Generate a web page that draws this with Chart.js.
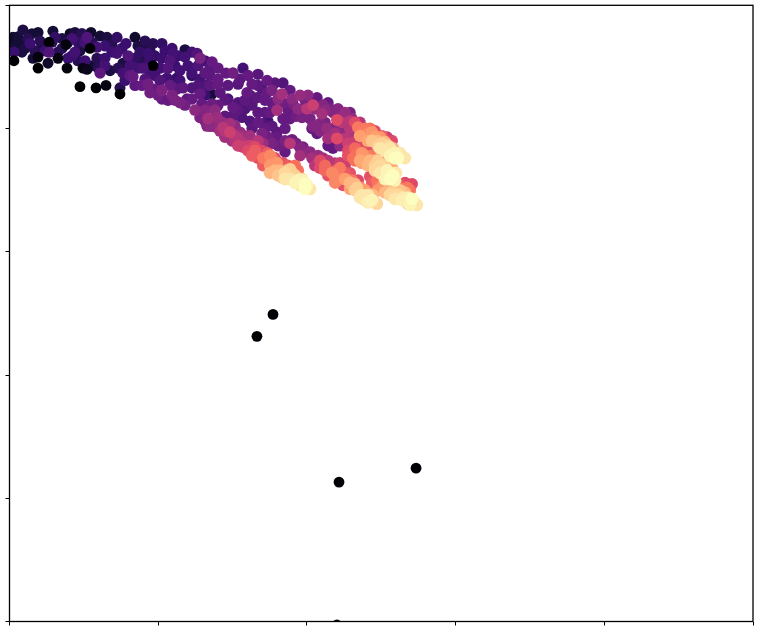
<!DOCTYPE html>
<html>
<head>
<meta charset="utf-8">
<title>Scatter</title>
<style>
  html, body { margin: 0; padding: 0; background: #fff; }
  #wrap { width: 759px; height: 628px; }
</style>
<script src="https://cdn.jsdelivr.net/npm/chart.js@4/dist/chart.umd.min.js"></script>
</head>
<body>
<div id="wrap"><canvas id="chart" width="759" height="628"></canvas></div>
<script>
// values (axes have no labels, so 0-500 is an arbitrary unit)
const tickValues = [0, 100, 200, 300, 400, 500];

// lone points under the band
const outlierX = [177.2, 166.4, 273.4, 221.6, 220.2];
const outlierY = [249.2, 231.4, 124.4, 113.1, -2.8];
const outlierHeat = [0, 0, 0, 0, 0];

// dark head on the left
const headX = [47.4, 58.2, 74.3, 19.2, 38.7, 19.2, 3, 26.6, 32.6, 38, 96.5, 64.9, 54.1, 49.4, 52.1, 9, 15.1, 29.2, 2.3, 3, 7, 10.4, 13.8, 20.5, 23.9, 26.6, 25.9, 32.6, 40.7, 44, 48.7, 52.1, 54.8, 60.9, 42, 44, 47.4, 50.8, 58.8, 64.2, 67.6, 60.9, 74.3, 0.3,
    5.7, 12.4, 19.2, 3.7, 8.4, 17.1, 15.8, 21.8, 28.6, 30.6, 35.3, 39.3, 46, 50.8, 42, 35.3, 39.3, 46, 55.5, 58.8, 64.2, 68.9, 68.9, 75.6, 79.7, 81, 73, 55.5, 59.5, 64.2];
const headY = [434, 433, 428, 449, 449, 458, 455, 470, 457, 468, 451, 435, 465, 449, 448, 480, 477, 479, 474, 462, 469, 465, 469, 471, 463, 462, 453, 462, 477, 478, 477, 474, 478, 475, 459, 462, 463, 455, 457, 457, 447, 445, 433, 470,
    474.5, 473, 478, 467, 462, 463, 457, 467, 470, 474, 473, 470, 470, 470, 473, 465, 457, 455, 470, 466, 467, 468, 462, 465, 459, 451, 449, 451, 449, 451];
const headHeat = [0, 0, 0, 0, .02, .02, 0, 0, .02, .02, 0, .03, 0, .03, .05, .12, .1, .1, .08, .2, .1, .12, .2, .15, .2, .25, .08, .15, .06, .12, .15, .25, .08, .1, .2, .22, .12, .2, .15, .2, .12, .28, .15, .08,
    .1, .15, .1, .1, .12, .15, .1, .12, .15, .18, .12, .15, .18, .22, .22, .15, .2, .15, .15, .22, .2, .15, .2, .2, .25, .22, .15, .1, .15, .22];

// purple middle of the band
const midX = [65.6, 72.3, 78.3, 84.4, 91.1, 96.5, 102.5, 109.3, 118, 122.7, 126.1, 128.1, 72.3, 76.3, 76.3, 83, 84.4, 93.1, 89.8, 97.8, 102.5, 106.6, 110, 114.6, 122.7, 105.9, 112.6, 122.7, 89.1, 93.1, 97.8, 102.5, 102.5, 109.3, 106.6, 114.6, 112.6, 116.7, 122.7, 128.1, 119.4, 124.7, 129.4, 136.2, 136.2, 133.5, 128.1, 136.8, 139.5, 134.8, 134.8, 136.2, 140.2, 140.2, 140.2, 146.9, 145.6, 150.3, 157, 153.7, 159.7, 163.1, 167.1, 173.2, 173.2, 169.8, 178.5, 183.9, 183.2, 190, 195.4, 200.7, 179.9, 176.5, 183.9, 183.9, 190.6, 130.1, 146.9, 153.7, 150.3, 163.1, 166.4, 156.3, 150.3, 144.9, 148.3, 130.1, 163.1, 170.5, 173.8, 171.8, 179.9, 179.9, 185.3, 190, 183.2, 176.5, 170.5, 188.6, 155, 151.6, 157, 165.1, 196.7, 200];
const midY = [474, 474, 469, 474, 471, 469, 469, 465, 464, 462, 461, 457, 461, 453, 445, 442, 457, 461, 449, 443, 457, 449, 461, 447, 445, 441, 441, 443, 435, 436, 432, 431, 424, 427, 423, 421, 432, 433, 433, 428, 424, 415, 420, 420, 428, 408, 409, 402, 409, 443, 449, 454, 449, 440, 436, 435, 445, 445, 449, 436, 429, 436, 444, 439, 429, 432, 437, 437, 428, 424, 427, 427, 415, 421, 421, 408, 420, 428, 424, 421, 417, 419, 425, 409, 410, 410, 404, 417, 400, 404, 406, 400, 397, 393, 381, 391, 386, 388, 388, 388, 397, 390, 388, 385, 409, 416];
const midHeat = [.12, .18, .2, .08, .15, .15, .18, .2, .12, .22, .25, .35, .22, .12, .22, .3, .18, .2, .24, .22, .2, .26, .22, .22, .22, .22, .18, .18, .3, .33, .3, .36, .3, .36, .3, .35, .28, .28, .25, .3, .28, .4, .3, .32, .1, .45, .36, .38, .43, .28, .27, .3, .3, .3, .3, .28, .3, .33, .22, .27, .3, .3, .27, .3, .3, .25, .27, .25, .45, .4, .42, .4, .45, .3, .33, .3, .35, .15, .25, .25, .3, .27, .28, .25, .28, .28, .45, .25, .28, .25, .22, .3, .28, .3, .3, .32, .32, .35, .43, .5, .42, .48, .5, .6, .35, .5];

const mid2X = [86.4, 91.1, 94.5, 87.7, 97.8, 104.6, 113.3, 118, 107.9, 111.3, 94.5, 89.8, 101.2, 94.5, 86.4, 81, 77.7, 91.1, 101.2, 107.9, 114.6, 120, 126.8, 131.5, 131.5, 128.1, 126.8, 132.8, 134.8, 84.4, 94.5, 99.9, 111.3, 118, 122.7, 131.5, 141.6, 144.9, 140.2, 131.5, 138.2, 142.9, 134.8, 144.9, 151.6, 153.7, 158.4, 158.4, 155, 160.4, 161.7, 167.1, 176.5, 180.6, 171.8, 167.1, 171.8, 175.2, 188.6, 187.3, 194, 192.7, 188.6, 200.7, 205.4, 161.7, 167.1, 185.3, 176.5, 169.8, 161.7, 167.1, 153.7, 160.4, 143.6, 151.6, 180.6, 173.8];
const mid2Y = [467, 466, 463, 462, 459, 463, 459, 458, 455, 451, 455, 455, 449, 445, 449, 443, 439, 440, 439, 435, 439, 451, 451, 455, 445, 440, 435, 435, 435, 435, 429, 427, 423, 419, 424, 427, 429, 423, 419, 415, 415, 405, 402, 398, 402, 415, 423, 416, 440, 443, 427, 435, 431, 424, 423, 413, 413, 413, 431, 415, 416, 410, 408, 421, 416, 406, 405, 400, 402, 396, 394, 390, 386, 382, 401, 394, 386, 393];
const mid2Heat = [.12, .12, .15, .18, .18, .2, .2, .22, .25, .2, .2, .15, .22, .22, .22, .28, .2, .25, .25, .3, .22, .22, .25, .22, .28, .22, .25, .25, .28, .28, .33, .33, .35, .33, .3, .2, .28, .28, .3, .38, .4, .42, .4, .5, .4, .28, .28, .25, .28, .3, .25, .28, .35, .4, .3, .28, .28, .3, .3, .3, .4, .33, .3, .35, .42, .25, .3, .3, .28, .35, .45, .5, .55, .6, .5, .5, .33, .33];

// the five fingers on the right, top one first
const finger1X = [204.1, 198.7, 206.8, 210.8, 214.2, 210.1, 217.5, 220.2, 224.3, 230.3, 234.4, 229, 237.7, 241, 242.4, 245.8, 247.1, 253.9, 250.5, 255.9, 259.2, 261.2, 266,
    212.2, 215.5, 220.9, 225.6, 223.6, 229, 232.3, 235.7, 239.1, 243.8, 249.2, 252.5, 254.5, 257.9, 262.6, 257.2, 245.8, 250.5, 229,
    235.7, 241, 243.8, 247.8, 252.5, 255.9, 249.2, 259.2];
const finger1Y = [419, 423, 425, 419, 421, 412, 413, 407, 410, 408, 401, 400, 397, 396, 400, 393, 390, 393, 388, 384, 380, 376, 376,
    415, 416, 416, 413, 405, 406, 405, 405, 400, 397, 393, 389, 386, 384, 380, 390, 398, 394, 413,
    394, 390, 390, 386, 382, 378, 384, 376];
const finger1Heat = [.55, .35, .3, .38, .3, .45, .38, .6, .42, .42, .72, .5, .7, .75, .7, .8, .85, .55, .9, .95, .98, 1, .95,
    .4, .35, .38, .42, .5, .5, .6, .5, .72, .78, .78, .85, .92, .85, .95, .6, .6, .65, .35,
    .8, .82, .88, .9, .95, .98, .95, 1];

const finger2X = [198.7, 204.1, 208.8, 206.8, 213.5, 218.9, 220.2, 214.2, 224.3, 227.6, 232.3, 217.5, 232.3, 237.7, 237, 242.4, 242.4, 247.8, 249.2, 253.9, 257.9, 251.2, 231,
    202.1, 208.8, 203.4, 212.2, 215.5, 218.9, 222.2, 225.6, 229, 232.3, 227.6, 234.4, 229, 237, 239.1, 241, 243.8, 245.8, 249.2, 254.5, 245.8, 251.2, 255.9, 259.9, 252.5, 257.2, 222.2, 214.2, 237, 232.3, 227.6,
    245.8, 249.2, 252.5, 259.2, 255.9, 247.8, 241, 235.7];
const finger2Y = [410, 402, 404, 396, 400, 401, 392, 392, 396, 388, 384, 384, 389, 388, 380, 384, 374, 376, 370, 366, 362, 374, 376,
    408, 398, 400, 405, 397, 396, 400, 392, 397, 394, 382, 380, 390, 384, 378, 380, 378, 374, 380, 372, 370, 364, 364, 364, 370, 368, 386, 386, 372, 374, 378,
    366, 364, 359, 358, 359, 374, 370, 374];
const finger2Heat = [.3, .38, .38, .28, .42, .35, .6, .45, .38, .55, .68, .3, .55, .55, .78, .62, .85, .65, .92, .98, 1, .7, .7,
    .35, .38, .3, .35, .42, .45, .4, .5, .42, .45, .6, .7, .5, .62, .75, .62, .72, .85, .55, .75, .9, .95, .98, .95, .9, .82, .4, .3, .8, .7, .62,
    .92, .95, .98, .98, 1, .9, .85, .82];

const finger3X = [242.4, 247.1, 251.2, 255.9, 262.6, 267.3, 270.7, 260.6, 268, 270.7, 274, 253.9,
    245.8, 249.2, 243.8, 247.8, 252.5, 255.9, 259.2, 257.2, 261.2, 266, 264.6, 269.3, 271.3, 268, 262.6, 266,
    255.9, 259.2, 264, 269.3, 252.5, 247.8];
const finger3Y = [361, 358, 354, 350, 350, 352, 355, 355, 344, 343, 338, 359,
    364, 358, 356, 352, 358, 354, 352, 348, 346, 348, 344, 350, 342, 339, 355, 356,
    346, 343, 342, 338, 348, 350];
const finger3Heat = [.62, .7, .78, .85, .88, .72, .6, .7, .97, 1, .95, .75,
    .62, .65, .65, .72, .7, .75, .8, .9, .92, .85, .95, .7, .95, .9, .62, .6,
    .92, .95, .97, .98, .85, .78];

const finger4X = [195.4, 200, 203.4, 205.4, 208.8, 215.5, 212.2, 216.9, 222.2, 225.6, 222.2, 229, 233.7, 224.3, 239, 237, 243.8, 247.1,
    197.4, 202.1, 207.5, 210.8, 214.2, 218.9, 222.2, 225.6, 229, 230.3, 218.9, 214.2, 218.9, 227, 232.3, 235.7, 241, 239.1, 244.4, 234.4, 229, 192.7, 185.3, 205.4, 208.8,
    232.3, 235.7, 241, 225.6, 218.9, 212.2];
const finger4Y = [384, 381, 376, 376, 374, 370, 366, 364, 368, 364, 359, 356, 352, 354, 350, 346, 342, 339,
    385, 381, 378, 376, 374, 372, 372, 370, 364, 358, 366, 362, 358, 358, 355, 352, 346, 342, 346, 358, 351, 388, 390, 370, 368,
    350, 344, 340, 359, 356, 370];
const finger4Heat = [.38, .38, .45, .4, .6, .42, .68, .75, .72, .65, .75, .85, .9, .62, .8, .95, .98, .92,
    .35, .4, .42, .45, .5, .5, .55, .55, .62, .72, .65, .62, .7, .78, .85, .75, .95, .9, .85, .6, .8, .35, .35, .5, .6,
    .9, .95, .97, .8, .75, .68];

const finger5X = [132.8, 139.5, 148.3, 149.6, 155, 157, 160.4, 165.1, 170.5, 173.8, 173.2, 176.5, 179.9, 183.9, 186.6, 183.9, 190, 194, 194, 198.7, 202.1, 195.4,
    131.5, 136.2, 141.6, 144.9, 153.7, 158.4, 161.7, 167.1, 163.1, 167.1, 169.8, 175.2, 178.5, 170.5, 175.2, 178.5, 181.9, 187.3, 188.6, 192, 196.7, 195.4, 200, 197.4, 185.3, 192,
    185.3, 188.6, 192, 198.7, 195.4, 175.2, 180.6];
const finger5Y = [402, 401, 397, 390, 394, 385, 390, 382, 376, 380, 372, 376, 372, 372, 366, 360, 364, 366, 358, 355, 351, 378,
    406, 402, 398, 393, 392, 394, 386, 382, 378, 376, 382, 378, 376, 370, 370, 366, 366, 370, 359, 362, 359, 354, 354, 358, 364, 370,
    359, 367, 356, 351, 359, 364, 362];
const finger5Heat = [.38, .4, .55, .45, .45, .55, .45, .65, .72, .65, .62, .72, .78, .62, .85, .85, .9, .7, .98, 1, .95, .45,
    .35, .38, .45, .45, .5, .4, .55, .6, .65, .62, .6, .75, .6, .65, .78, .85, .85, .65, .95, .9, .9, .95, .98, .98, .92, .7,
    .95, .9, .98, 1, .95, .85, .88];

// magma colormap stops
const magma = ["#000004", "#140e36", "#3b0f70", "#641a80", "#8c2981", "#b73779", "#de4968", "#f7705c", "#fe9f6d", "#fecf92", "#fcfdbf"];

function corDoMapa(v) {
    const pos = Math.min(Math.max(v, 0), 1) * (magma.length - 1);
    const i = Math.min(Math.floor(pos), magma.length - 2);
    const t = pos - i;
    const a = parseInt(magma[i].slice(1), 16);
    const b = parseInt(magma[i + 1].slice(1), 16);
    const mix = s => Math.round(((a >> s) & 255) * (1 - t) + ((b >> s) & 255) * t);
    return `rgb(${mix(16)},${mix(8)},${mix(0)})`;
}

// join the groups; light ones last, the black ones stay above the darkest purple
const allX = [outlierX, headX, midX, mid2X, finger1X, finger2X, finger3X, finger4X, finger5X].flat();
const allY = [outlierY, headY, midY, mid2Y, finger1Y, finger2Y, finger3Y, finger4Y, finger5Y].flat();
const allHeat = [outlierHeat, headHeat, midHeat, mid2Heat, finger1Heat, finger2Heat, finger3Heat, finger4Heat, finger5Heat].flat();
const ordem = h => (h < 0.06 ? 0.23 : h);
const pontos = allX.map((x, i) => ({ x: x, y: allY[i], heat: allHeat[i] })).sort((a, b) => ordem(a.heat) - ordem(b.heat));

// matplotlib keeps its frame above the points, so draw it after the datasets
const moldura = {
    id: "moldura",
    afterDatasetsDraw(chart) {
        const { ctx, chartArea: a } = chart;
        ctx.save();
        ctx.strokeStyle = "#000";
        ctx.lineWidth = 1.3;
        ctx.strokeRect(a.left, a.top, a.right - a.left, a.bottom - a.top);
        ctx.restore();
    }
};

const eixo = {
    min: 0,
    max: 500,
    afterBuildTicks(axis) { axis.ticks = tickValues.map(v => ({ value: v })); },
    border: { display: false },
    grid: { drawOnChartArea: false, drawTicks: true, tickLength: 4, color: "#000", lineWidth: 1 },
    ticks: { display: false }
};

new Chart(document.getElementById("chart"), {
    type: "scatter",
    data: {
        datasets: [{
            data: pontos,
            // the light dots are a little bigger in the reference
            pointRadius: pontos.map(p => 5.4 + 1.0 * p.heat),
            pointHoverRadius: 5.4,
            borderWidth: 0,
            pointBorderWidth: 0,
            pointBackgroundColor: pontos.map(p => corDoMapa(p.heat))
        }]
    },
    options: {
        responsive: false,
        animation: false,
        layout: { autoPadding: false, padding: { left: 5.5, right: 6, top: 5.3, bottom: 2.5 } },
        plugins: { legend: { display: false }, tooltip: { enabled: false } },
        scales: {
            x: { ...eixo, type: "linear", position: "bottom" },
            y: { ...eixo, type: "linear", position: "left" }
        }
    },
    plugins: [moldura]
});
</script>
</body>
</html>
